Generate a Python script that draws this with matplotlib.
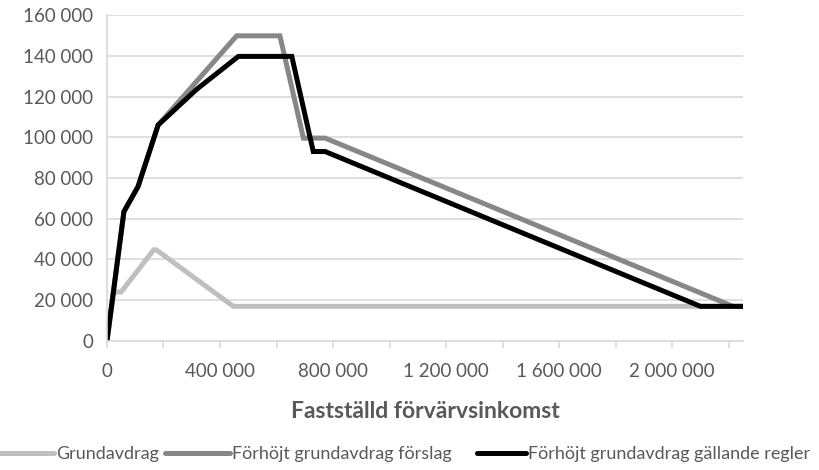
import matplotlib.pyplot as plt
from matplotlib.ticker import FuncFormatter, MultipleLocator

plt.rcParams['font.family'] = ['Lato', 'DejaVu Sans']

# Data
x_grund = [0, 24000, 50000, 165000, 175000, 447000, 2250000]
y_grund = [0, 24000, 24000, 44700, 44700, 17000, 17000]

x_forslag = [0, 60000, 110000, 181000, 459000, 612000, 695000, 772000, 2215000, 2250000]
y_forslag = [0, 63500, 75800, 106000, 149800, 149800, 99600, 99600, 17000, 17000]

x_gallande = [0, 60000, 110000, 181000, 317000, 465000, 654000, 730000, 772000, 2100000, 2250000]
y_gallande = [0, 63500, 75800, 106000, 123500, 139700, 139700, 93000, 93000, 17000, 17000]

labels = ['Grundavdrag', 'Förhöjt grundavdrag förslag', 'Förhöjt grundavdrag gällande regler']
colors = ['#BFBFBF', '#878787', '#000000']

fig = plt.figure(figsize=(8.19, 4.70), dpi=100)
ax = fig.add_axes([0.1306, 0.2745, 0.907 - 0.1306, 0.968 - 0.2745])

l1, = ax.plot(x_grund, y_grund, color=colors[0], lw=3.6, label=labels[0],
              solid_joinstyle='miter', solid_capstyle='round')
l2, = ax.plot(x_forslag, y_forslag, color=colors[1], lw=3.6, label=labels[1],
              solid_joinstyle='miter', solid_capstyle='round')
l3, = ax.plot(x_gallande, y_gallande, color=colors[2], lw=3.6, label=labels[2],
              solid_joinstyle='miter', solid_capstyle='round')

ax.set_xlim(0, 2250000)
ax.set_ylim(0, 160000)

def sp(v, pos):
    return f'{int(v):,}'.replace(',', ' ')

ax.yaxis.set_major_locator(MultipleLocator(20000))
ax.yaxis.set_major_formatter(FuncFormatter(sp))
ax.xaxis.set_major_locator(MultipleLocator(400000))
ax.xaxis.set_minor_locator(MultipleLocator(200000))
ax.xaxis.set_major_formatter(FuncFormatter(sp))

ax.grid(axis='y', color='#D9D9D9', lw=1.2)
ax.set_axisbelow(True)
for s in ['top', 'right']:
    ax.spines[s].set_visible(False)
ax.spines['left'].set_color('#D9D9D9')
ax.spines['bottom'].set_color('#D9D9D9')
ax.spines['left'].set_linewidth(1.2)
ax.spines['bottom'].set_linewidth(1.2)

ax.tick_params(axis='y', length=0, labelsize=13.5, labelcolor='#595959', pad=10)
ax.tick_params(axis='x', which='both', length=5, color='#D9D9D9', width=1.2)
ax.tick_params(axis='x', labelsize=13.5, labelcolor='#595959', pad=11)

ax.set_xlabel('Fastställd förvärvsinkomst', fontsize=16.5, fontweight='bold',
              color='#595959', labelpad=15)

# legend entries placed one by one, like the Excel layout
for h, x0, hl in [(l1, -0.0085, 3.4), (l2, 0.2015, 3.6), (l3, 0.5824, 2.7)]:
    fig.legend(handles=[h], loc='center left', bbox_to_anchor=(x0, 0.034),
               frameon=False, fontsize=13, handlelength=hl, handletextpad=0.1,
               borderpad=0, borderaxespad=0, labelcolor='#595959')

plt.savefig('out.png', dpi=100)
